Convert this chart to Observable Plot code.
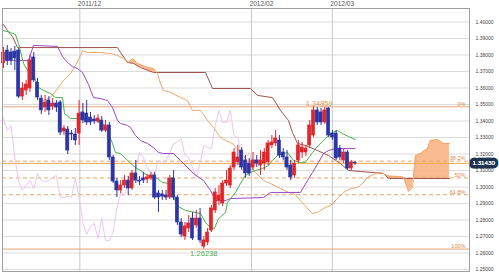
<!DOCTYPE html>
<html>
<head>
<meta charset="utf-8">
<script src="https://cdn.jsdelivr.net/npm/d3@7"></script>
<script src="https://cdn.jsdelivr.net/npm/@observablehq/plot@0.6"></script>
<style>
  html, body { margin: 0; padding: 0; background: #fff; }
  svg { font-family: "Liberation Sans", Arial, sans-serif; }
</style>
</head>
<body>
<div id="chart"></div>
<script>
// ---- data ----
const opens = [1.3749,1.3827,1.3815,1.3821,1.3827,1.3548,1.3585,1.3597,1.3785,1.3633,
  1.3536,1.3482,1.3524,1.3488,1.3506,1.3512,1.3336,1.3348,1.3324,1.3318,
  1.3324,1.3452,1.3445,1.3421,1.3409,1.3397,1.3403,1.3342,1.3373,1.3179,
  1.3033,1.2979,1.3009,1.3039,1.2991,1.3082,1.3039,1.3052,1.3045,1.3052,
  1.3070,1.2961,1.2955,1.2948,1.2936,1.3052,1.2936,1.2785,1.2700,1.2749,
  1.2809,1.2767,1.2809,1.2639,1.2664,1.2736,1.2858,1.2918,1.2900,1.3021,
  1.3009,1.3118,1.3149,1.3221,1.3161,1.3142,1.3118,1.3161,1.3130,1.3142,
  1.3149,1.3252,1.3264,1.3282,1.3209,1.3179,1.3130,1.3070,1.3161,1.3209,
  1.3209,1.3252,1.3312,1.3464,1.3452,1.3391,1.3476,1.3324,1.3324,1.3233,
  1.3161,1.3209,1.3112,1.3145];
const highs = [1.3846,1.3858,1.3839,1.3852,1.3839,1.3633,1.3646,1.3797,1.3815,1.3658,
  1.3555,1.3555,1.3548,1.3536,1.3524,1.3524,1.3373,1.3367,1.3342,1.3355,
  1.3524,1.3506,1.3524,1.3452,1.3433,1.3439,1.3427,1.3403,1.3391,1.3191,
  1.3052,1.3039,1.3070,1.3064,1.3100,1.3161,1.3064,1.3088,1.3076,1.3088,
  1.3088,1.2979,1.2979,1.2979,1.3070,1.3100,1.2948,1.2809,1.2785,1.2827,
  1.2845,1.2858,1.2870,1.2700,1.2749,1.2888,1.2991,1.3009,1.3039,1.3100,
  1.3130,1.3233,1.3252,1.3239,1.3191,1.3173,1.3209,1.3191,1.3221,1.3233,
  1.3282,1.3312,1.3342,1.3312,1.3233,1.3221,1.3161,1.3161,1.3282,1.3270,
  1.3252,1.3403,1.34859,1.3482,1.3476,1.3482,1.3482,1.3342,1.3342,1.3252,
  1.3233,1.3221,1.3161,1.3155];
const lows = [1.3718,1.3736,1.3736,1.3706,1.3536,1.3524,1.3555,1.3573,1.3633,1.3524,
  1.3439,1.3452,1.3433,1.3464,1.3452,1.3312,1.3312,1.3197,1.3282,1.3252,
  1.3252,1.3385,1.3373,1.3373,1.3379,1.3385,1.3330,1.3330,1.3161,1.3021,
  1.2936,1.2960,1.2991,1.2948,1.2979,1.3021,1.3009,1.3021,1.3021,1.3039,
  1.2924,1.2845,1.2918,1.2918,1.2924,1.2918,1.2767,1.2694,1.2676,1.2724,
  1.2676,1.2749,1.2658,1.26238,1.2645,1.2724,1.2839,1.2888,1.2882,1.3003,
  1.2991,1.3100,1.3130,1.3100,1.3052,1.3064,1.3100,1.3118,1.3070,1.3100,
  1.3130,1.3233,1.3245,1.3173,1.3161,1.3100,1.3039,1.3052,1.3142,1.3173,
  1.3185,1.3233,1.3300,1.3373,1.3373,1.3379,1.3300,1.3282,1.3161,1.3161,
  1.3142,1.3100,1.3100,1.3130];
const closes = [1.3815,1.3767,1.3767,1.3779,1.3548,1.3597,1.3621,1.3767,1.3646,1.3542,
  1.3464,1.3512,1.3464,1.3506,1.3482,1.3330,1.3355,1.3221,1.3318,1.3282,
  1.3445,1.3403,1.3391,1.3391,1.3397,1.3415,1.3342,1.3373,1.3179,1.3033,
  1.2979,1.3009,1.3039,1.2991,1.3082,1.3039,1.3033,1.3039,1.3058,1.3070,
  1.2936,1.2936,1.2942,1.2936,1.3052,1.2936,1.2785,1.2712,1.2761,1.2779,
  1.2688,1.2809,1.2676,1.2676,1.2724,1.2870,1.2967,1.2948,1.3021,1.3039,
  1.3112,1.3209,1.3179,1.3118,1.3082,1.3082,1.3161,1.3142,1.3161,1.3209,
  1.3264,1.3270,1.3294,1.3191,1.3179,1.3118,1.3058,1.3142,1.3252,1.3239,
  1.3233,1.3373,1.3464,1.3391,1.3391,1.3464,1.3312,1.3300,1.3173,1.3179,
  1.3209,1.3112,1.3149,1.3143];

// Ichimoku lines: [bar index, price] breakpoints
const tenkan = [[0,1.3948],[1.85,1.3936],[3.17,1.3924],[3.97,1.3870],[5.29,1.3749],[6.35,1.3706],
  [7.94,1.3688],[8.47,1.3645],[9.26,1.3603],[10.58,1.3585],[12.43,1.3567],[13.76,1.3542],
  [15.61,1.3542],[16.14,1.3445],[17.72,1.3415],[20.9,1.3415],[24.34,1.3403],[26.19,1.3385],
  [26.98,1.3361],[27.78,1.3324],[28.84,1.3264],[29.63,1.3209],[30.95,1.3203],[32.8,1.3161],
  [34.92,1.3118],[36.24,1.3100],[38.1,1.3070],[39.42,1.3058],[40.74,1.3052],[42.06,1.3027],
  [44.18,1.3021],[45.77,1.2888],[48.15,1.2858],[52.12,1.2839],[53.44,1.2785],[54.76,1.2755],
  [55.82,1.2749],[56.88,1.2809],[58.73,1.2845],[59.26,1.2906],[61.38,1.2967],[62.7,1.3021],
  [64.02,1.3070],[65.34,1.3088],[66.67,1.3100],[68.52,1.3112],[70.11,1.3130],[71.16,1.3161],
  [72.49,1.3191],[74.07,1.3203],[75.13,1.3209],[76.72,1.3161],[78.57,1.3149],[79.89,1.3149],
  [81.75,1.3209],[83.33,1.3252],[85.19,1.3294],[87.04,1.3330],[88.36,1.3342],[89.68,1.3324],
  [91.27,1.3306],[93,1.3288]];
const kijun = [[0,1.3767],[6.61,1.3767],[7.94,1.3858],[14.29,1.3852],[15.61,1.3791],[16.93,1.3755],
  [18.25,1.3730],[19.58,1.3718],[20.9,1.3694],[22.49,1.3621],[23.81,1.3542],[25.66,1.3536],
  [27.51,1.3524],[28.84,1.3482],[30.16,1.3403],[30.95,1.3385],[32.8,1.3373],[33.6,1.3361],
  [34.92,1.3312],[36.24,1.3282],[38.1,1.3264],[39.68,1.3239],[41.0,1.3209],[42.33,1.3203],
  [44.97,1.3203],[46.83,1.3161],[50.26,1.3082],[52.91,1.3039],[54.76,1.2979],[56.08,1.2918],
  [58.73,1.2918],[60.05,1.2930],[68.78,1.2936],[70.63,1.2967],[78.57,1.2967],[80.42,1.3039],
  [81.75,1.3088],[83.33,1.3149],[84.66,1.3203],[85.98,1.3221],[87.83,1.3233],[93,1.3233]];
const spanA = [[10.58,1.3524],[12.43,1.3542],[14.29,1.3597],[15.87,1.3645],[17.72,1.3688],
  [19.05,1.3736],[20.37,1.3797],[20.9,1.3827],[22.2,1.3815],[25.66,1.3815],[28.31,1.3809],
  [30.16,1.3797],[31.75,1.3779],[33.07,1.3755],[34.13,1.3779],[35.45,1.3749],[38.1,1.3724],
  [39.68,1.3718],[40.74,1.3688],[41.53,1.3627],[42.33,1.3585],[44.18,1.3573],[46.83,1.3542],
  [48.68,1.3524],[50.0,1.3464],[52.12,1.3464],[53.97,1.3403],[55.56,1.3361],[57.41,1.3300],
  [58.73,1.3282],[60.58,1.3264],[62.17,1.3221],[63.49,1.3191],[64.81,1.3142],[66.67,1.3088],
  [68.78,1.3039],[70.63,1.3021],[73.28,1.2991],[75.4,1.2967],[76.72,1.2961],[78.57,1.2918],
  [80.42,1.2870],[81.75,1.2839],[83.07,1.2845],[84.66,1.2870],[86.51,1.2888],[88.36,1.2930],
  [89.95,1.2967],[91.8,1.2991],[93.65,1.2997],[94.97,1.3021],[96.3,1.3058],[97.88,1.3076],
  [99.74,1.3088],[101.85,1.3066],[104.23,1.3064],[105.82,1.3060],[107.14,1.2973],[108.2,1.2997],
  [108.99,1.3191],[110.32,1.3203],[112.17,1.3233],[112.96,1.3282],[114.81,1.3288],[116.4,1.3264],
  [118,1.3264]];
const spanB = [[0,1.3985],[1.06,1.3948],[2.38,1.3912],[3.7,1.3845],[30.16,1.3845],[30.95,1.3815],
  [32.8,1.3755],[34.39,1.3749],[36.24,1.3724],[39.68,1.3694],[53.44,1.3694],[55.29,1.3597],
  [65.34,1.3597],[67.2,1.3555],[71.16,1.3542],[73.28,1.3464],[75.4,1.3403],[76.46,1.3330],
  [77.78,1.3264],[79.89,1.3252],[83.07,1.3221],[85.98,1.3191],[89.15,1.3142],[91.27,1.3100],
  [94.44,1.3094],[100.53,1.3082],[101.85,1.3052],[118,1.3052]];
const chikouShift = 25;
const futureCloudStart = 99.5;

const yTicks = [1.25,1.26,1.27,1.28,1.29,1.30,1.31,1.32,1.33,1.34,1.35,1.36,1.37,1.38,1.39,1.40];
const monthTicks = [20.2, 65.6, 87.0];
const monthLabels = ["2011/12", "2012/02", "2012/03"];
const highValue = 1.34859, lowValue = 1.26238, lastPrice = 1.31430;
const fibLevels = [0, 0.382, 0.5, 0.618, 1];
const fibLabels = ["0%", "38.2%", "50%", "61.8%", "100%"];
const highIndex = 82, lowIndex = 53;

// ---- derived tables ----
const candles = opens.map((o, i) => ({i, o, h: highs[i], l: lows[i], c: closes[i], up: closes[i] >= o}));
const chikou = closes.map((c, i) => ({i: i - chikouShift, c}));
const fib = fibLevels.map((f, k) => ({v: highValue - f * (highValue - lowValue), label: fibLabels[k], solid: f === 0 || f === 1}));

function interp(pts, x) {
  for (let k = 0; k < pts.length - 1; k++) {
    const [x0, y0] = pts[k], [x1, y1] = pts[k + 1];
    if (x >= x0 && x <= x1) return x1 === x0 ? y0 : y0 + (y1 - y0) * (x - x0) / (x1 - x0);
  }
  return NaN;
}
const lo = Math.max(spanA[0][0], spanB[0][0]), hi = Math.min(spanA[spanA.length-1][0], spanB[spanB.length-1][0]);
const xs = [...new Set([...spanA, ...spanB].map(d => d[0]).concat([futureCloudStart]).filter(x => x >= lo && x <= hi))].sort((a, b) => a - b);
const cloud = [];
xs.forEach((x, k) => {
  const a = interp(spanA, x), b = interp(spanB, x);
  const all = x >= futureCloudStart;
  if (k > 0) {
    const xp = xs[k - 1], ap = interp(spanA, xp), bp = interp(spanB, xp);
    const dp = ap - bp, d = a - b;
    if (dp * d < 0) {
      const t = dp / (dp - d), xc = xp + t * (x - xp), yc = ap + t * (a - ap);
      cloud.push({x: xc, y1: yc, y2: yc});
    }
  }
  cloud.push({x, y1: b, y2: all ? a : Math.max(a, b)});
});

const RED = "#e0262b", BLUE = "#2b35a6";

const chart = Plot.plot({
  width: 499, height: 273,
  marginLeft: 2, marginRight: 30, marginTop: 8, marginBottom: 2,
  x: {type: "linear", domain: [-0.2646, 123.28], axis: null},
  y: {type: "linear", domain: [1.24879, 1.40818], axis: null},
  style: {background: "#fff", fontFamily: "'Liberation Sans', Arial, sans-serif"},
  marks: [
    Plot.ruleY(yTicks, {stroke: "#dcdcdc", strokeWidth: 1}),
    Plot.ruleX(monthTicks, {stroke: "#c8c8c8", strokeWidth: 1}),
    Plot.areaY(cloud, {x: "x", y1: "y1", y2: "y2", fill: "#f8b585", fillOpacity: 0.9, curve: "linear"}),
    // fibonacci
    Plot.ruleY(fib.filter(d => d.solid), {y: "v", stroke: "#e9a477", strokeWidth: 1}),
    Plot.ruleY(fib.filter(d => !d.solid), {y: "v", stroke: "#eba46c", strokeWidth: 1, strokeDasharray: "4,3"}),
    Plot.ruleY([lastPrice], {stroke: "#f2a64a", strokeWidth: 1}),
    Plot.text(fib, {x: 122.2, y: "v", text: "label", textAnchor: "end", lineAnchor: "bottom", dy: -1, fontSize: 5.5, fill: "#d98a50"}),
    // ichimoku lines
    Plot.line(chikou, {x: "i", y: "c", stroke: "#ecc6ee", strokeWidth: 1}),
    Plot.line(spanB, {x: d => d[0], y: d => d[1], stroke: "#a3504c", strokeWidth: 1}),
    Plot.line(spanA, {x: d => d[0], y: d => d[1], stroke: "#f0a86a", strokeWidth: 1}),
    Plot.line(kijun, {x: d => d[0], y: d => d[1], stroke: "#9a48c8", strokeWidth: 1}),
    Plot.line(tenkan, {x: d => d[0], y: d => d[1], stroke: "#46b24a", strokeWidth: 1}),
    // candles
    Plot.ruleX(candles, {x: "i", y1: "l", y2: "h", stroke: d => d.up ? RED : BLUE, strokeWidth: 1}),
    Plot.rect(candles, {x1: d => d.i - 0.42, x2: d => d.i + 0.42, y1: "o", y2: "c", fill: d => d.up ? RED : BLUE, stroke: d => d.up ? RED : BLUE, strokeWidth: 0.6}),
    // high / low labels
    Plot.text([highValue], {x: highIndex + 1.5, y: d => d, text: d => d.toFixed(5), lineAnchor: "bottom", dy: -0.5, fontSize: 7.4, fill: "#e8954f"}),
    Plot.text([lowValue], {x: lowIndex, y: d => d, text: d => d.toFixed(5), lineAnchor: "top", dy: 1.5, fontSize: 7.6, fill: "#4cb050"}),
    Plot.frame({stroke: "#a0a0a0"}),
    // month labels on top
    Plot.text(monthTicks, {x: d => d, frameAnchor: "top", text: (d, k) => monthLabels[k], textAnchor: "start", dx: -2, dy: -4.5, lineAnchor: "middle", fontSize: 6.6, fill: "#555"}),
    // right axis
    Plot.axisY(yTicks, {anchor: "right", tickSize: 0, tickPadding: 6, tickFormat: d => d.toFixed(5), fontSize: 5, fill: "#444"}),
    // last price box
    Plot.text([lastPrice], {x: 123.28, y: d => d, text: d => d.toFixed(5), textAnchor: "start", dx: 3, fontSize: 6.2, fill: "#fff", stroke: "#1d3350", strokeWidth: 7, paintOrder: "stroke"}),
    Plot.text([lastPrice], {x: 123.28, y: d => d, text: d => d.toFixed(5), textAnchor: "start", dx: 3, fontSize: 6.2, fill: "#fff"})
  ]
});
document.getElementById("chart").appendChild(chart);
</script>
</body>
</html>
